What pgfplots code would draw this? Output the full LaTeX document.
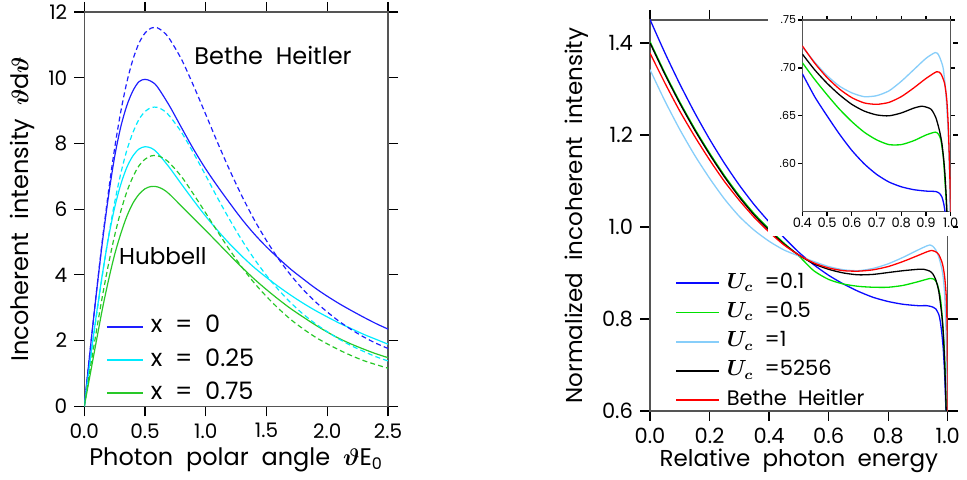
\documentclass[border=0pt]{standalone}
\usepackage{amsmath}
\usepackage{fontspec}
\setmainfont{Poppins}[WordSpace=2]
\usepackage{pgfplots}
\pgfplotsset{compat=1.18}
\definecolor{lblue}{RGB}{30,30,255}
\definecolor{lcyan}{RGB}{0,235,255}
\definecolor{lgreen}{RGB}{40,200,40}
\definecolor{rblue}{RGB}{10,10,255}
\definecolor{rgreen}{RGB}{0,225,0}
\definecolor{rlb}{RGB}{135,206,250}
\definecolor{rred}{RGB}{255,0,0}
\definecolor{spine}{RGB}{85,85,85}
\begin{document}
\begin{tikzpicture}
\useasboundingbox (0,0) rectangle (483.5pt,240pt);
\pgfplotsset{every axis/.append style={scale only axis, anchor=south west, tick align=outside,
  axis line style={spine, line width=0.7pt}, tick style={black, line width=0.6pt}}}
% ---------------- left panel ----------------
\begin{axis}[at={(42.15pt,36.85pt)}, width=151.85pt, height=197.15pt,
  xmin=0, xmax=2.5, ymin=0, ymax=12,
  xtick={0,0.5,1,1.5,2,2.5}, xticklabels={0.0,0.5,1.0,1.5,2.0,2.5},
  ytick={0,2,4,6,8,10,12}, yticklabels={0,2,4,6,8,10,12},
  major tick length=5pt,
  tick label style={font=\fontsize{10}{12}\selectfont},
  label style={font=\fontsize{12}{14}\selectfont},
  xlabel style={yshift=2pt},
  xlabel={Photon polar angle $\boldsymbol{\vartheta}$E\textsubscript{0}},
  ylabel={Incoherent intensity $\boldsymbol{\vartheta}$d$\boldsymbol{\vartheta}$},
  legend image code/.code={\draw[#1, line width=0.9pt] (0pt,0pt) -- (18pt,0pt);},
  legend style={at={(0.07,0.2354)}, anchor=north west, draw=none, fill=none, inner sep=0pt,
    font=\fontsize{12}{14}\selectfont, row sep=3.6pt, column sep=2.5pt,
    nodes={inner sep=1pt, text height=8.5pt, text depth=2.5pt}},
  legend cell align=left]
\addplot[lblue, line width=0.6pt, smooth] coordinates {(0,0)(0.05,1.77)(0.1,3.46)(0.15,5.03)(0.2,6.42)(0.25,7.6)(0.3,8.5)(0.35,9.15)(0.4,9.6)(0.45,9.88)(0.5,9.95)(0.55,9.89)(0.6,9.73)(0.7,9.15)(0.8,8.48)(0.9,7.82)(1.0,7.22)(1.1,6.68)(1.2,6.17)(1.3,5.68)(1.4,5.24)(1.5,4.85)(1.6,4.5)(1.7,4.17)(1.8,3.88)(1.9,3.6)(2.0,3.35)(2.1,3.12)(2.2,2.91)(2.3,2.71)(2.4,2.52)(2.5,2.35)};
\addlegendentry{x = 0}
\addplot[lcyan, line width=0.6pt, smooth] coordinates {(0,0)(0.05,1.45)(0.1,2.8)(0.15,4.05)(0.2,5.15)(0.25,6.05)(0.3,6.75)(0.35,7.27)(0.4,7.62)(0.45,7.83)(0.5,7.9)(0.55,7.86)(0.6,7.72)(0.7,7.27)(0.8,6.76)(0.9,6.26)(1.0,5.78)(1.1,5.34)(1.2,4.93)(1.3,4.56)(1.4,4.22)(1.5,3.92)(1.6,3.64)(1.7,3.38)(1.8,3.14)(1.9,2.92)(2.0,2.72)(2.1,2.53)(2.2,2.36)(2.3,2.19)(2.4,2.04)(2.5,1.89)};
\addlegendentry{x = 0.25}
\addplot[lgreen, line width=0.6pt, smooth] coordinates {(0,0)(0.05,1.0)(0.1,2.0)(0.15,2.98)(0.2,3.85)(0.25,4.62)(0.3,5.25)(0.35,5.78)(0.4,6.18)(0.45,6.45)(0.5,6.62)(0.55,6.69)(0.6,6.68)(0.65,6.6)(0.7,6.46)(0.8,6.09)(0.9,5.72)(1.0,5.35)(1.1,4.97)(1.2,4.59)(1.3,4.22)(1.4,3.87)(1.5,3.55)(1.6,3.25)(1.7,2.97)(1.8,2.72)(1.9,2.48)(2.0,2.26)(2.1,2.06)(2.2,1.89)(2.3,1.74)(2.4,1.6)(2.5,1.48)};
\addlegendentry{x = 0.75}
\addplot[lblue, line width=0.6pt, smooth, dash pattern=on 2.5pt off 1.6pt, forget plot] coordinates {(0,0)(0.05,1.77)(0.1,3.48)(0.15,5.09)(0.2,6.56)(0.25,7.86)(0.3,8.96)(0.35,9.86)(0.4,10.55)(0.45,11.05)(0.5,11.36)(0.55,11.51)(0.6,11.52)(0.65,11.40)(0.7,11.19)(0.8,10.56)(0.9,9.75)(1.0,8.88)(1.1,8.00)(1.2,7.16)(1.3,6.38)(1.4,5.67)(1.5,5.04)(1.6,4.48)(1.7,3.99)(1.8,3.56)(1.9,3.19)(2.0,2.87)(2.1,2.58)(2.2,2.33)(2.3,2.11)(2.4,1.92)(2.5,1.76)};
\addplot[lcyan, line width=0.6pt, smooth, dash pattern=on 2.5pt off 1.6pt, forget plot] coordinates {(0,0)(0.05,1.40)(0.1,2.75)(0.15,4.02)(0.2,5.18)(0.25,6.21)(0.3,7.08)(0.35,7.79)(0.4,8.33)(0.45,8.73)(0.5,8.97)(0.55,9.09)(0.6,9.10)(0.65,9.01)(0.7,8.84)(0.8,8.34)(0.9,7.70)(1.0,7.02)(1.1,6.32)(1.2,5.66)(1.3,5.04)(1.4,4.48)(1.5,3.98)(1.6,3.54)(1.7,3.15)(1.8,2.81)(1.9,2.52)(2.0,2.27)(2.1,2.04)(2.2,1.84)(2.3,1.67)(2.4,1.51)(2.5,1.38)};
\addplot[lgreen, line width=0.6pt, smooth, dash pattern=on 2.5pt off 1.6pt, forget plot] coordinates {(0,0)(0.05,1.17)(0.1,2.30)(0.15,3.37)(0.2,4.34)(0.25,5.20)(0.3,5.93)(0.35,6.53)(0.4,6.98)(0.45,7.32)(0.5,7.52)(0.55,7.62)(0.6,7.63)(0.65,7.55)(0.7,7.41)(0.8,6.99)(0.9,6.45)(1.0,5.88)(1.1,5.30)(1.2,4.74)(1.3,4.22)(1.4,3.75)(1.5,3.34)(1.6,2.97)(1.7,2.64)(1.8,2.36)(1.9,2.11)(2.0,1.90)(2.1,1.71)(2.2,1.54)(2.3,1.39)(2.4,1.27)(2.5,1.16)};
\node[font=\fontsize{12}{14}\selectfont] at (axis cs:1.554,10.69) {Bethe Heitler};
\node[font=\fontsize{11.5}{14}\selectfont] at (axis cs:0.647,4.57) {Hubbell};
\end{axis}
% ---------------- right panel ----------------
\begin{axis}[at={(325pt,34.5pt)}, width=148.85pt, height=195.5pt,
  xmin=0, xmax=1, ymin=0.6, ymax=1.45,
  xtick={0,0.2,0.4,0.6,0.8,1}, xticklabels={0.0,0.2,0.4,0.6,0.8,1.0},
  ytick={0.6,0.8,1.0,1.2,1.4}, yticklabels={0.6,0.8,1.0,1.2,1.4},
  major tick length=5pt,
  tick label style={font=\fontsize{10.5}{12}\selectfont},
  label style={font=\fontsize{11.5}{14}\selectfont},
  xlabel style={yshift=4.5pt},
  xlabel={Relative photon energy},
  ylabel={Normalized incoherent intensity},
  legend image code/.code={\draw[#1, line width=0.9pt] (0pt,0pt) -- (21.3pt,0pt);},
  legend style={at={(0.084,0.3607)}, anchor=north west, draw=none, fill=none, inner sep=0pt,
    font=\fontsize{10.5}{12}\selectfont, row sep=1.6pt, column sep=2.5pt,
    nodes={inner sep=1pt, text height=8pt, text depth=3pt}},
  legend cell align=left]
\addplot[rblue, line width=0.65pt, smooth, tension=0.4] coordinates {(0,1.451)(0.05,1.3785)(0.1,1.311)(0.15,1.2485)(0.2,1.191)(0.25,1.1385)(0.3,1.091)(0.35,1.0485)(0.4,1.011)(0.45,0.977)(0.5,0.945)(0.55,0.918)(0.6,0.895)(0.65,0.876)(0.7,0.860)(0.75,0.847)(0.8,0.838)(0.85,0.832)(0.9,0.829)(0.93,0.829)(0.95,0.826)(0.96,0.822)(0.97,0.81)(0.975,0.795)(0.98,0.77)(0.985,0.735)(0.99,0.675)(0.994,0.60)(0.996,0.55)};
\addlegendentry{$\boldsymbol{U_c}$ =0.1}
\addplot[rgreen, line width=0.65pt, smooth, tension=0.4] coordinates {(0,1.403)(0.05,1.335)(0.1,1.272)(0.15,1.214)(0.2,1.161)(0.25,1.112)(0.3,1.068)(0.35,1.029)(0.4,0.996)(0.45,0.965)(0.5,0.937)(0.55,0.905)(0.6,0.886)(0.65,0.876)(0.7,0.871)(0.75,0.869)(0.8,0.869)(0.85,0.873)(0.9,0.881)(0.94,0.888)(0.955,0.886)(0.965,0.876)(0.975,0.848)(0.982,0.80)(0.988,0.74)(0.993,0.66)(0.997,0.56)};
\addlegendentry{$\boldsymbol{U_c}$ =0.5}
\addplot[rlb, line width=0.65pt, smooth, tension=0.4] coordinates {(0,1.342)(0.05,1.274)(0.1,1.212)(0.15,1.156)(0.2,1.106)(0.25,1.061)(0.3,1.023)(0.35,0.993)(0.4,0.969)(0.45,0.950)(0.5,0.937)(0.55,0.925)(0.6,0.914)(0.65,0.907)(0.7,0.905)(0.75,0.910)(0.8,0.920)(0.85,0.934)(0.9,0.950)(0.93,0.959)(0.94,0.961)(0.95,0.958)(0.96,0.95)(0.97,0.935)(0.98,0.91)(0.985,0.89)(0.99,0.85)(0.995,0.76)(0.998,0.65)(1.0,0.55)};
\addlegendentry{$\boldsymbol{U_c}$ =1}
\addplot[black, line width=0.65pt, smooth, tension=0.4] coordinates {(0,1.400)(0.05,1.332)(0.1,1.269)(0.15,1.211)(0.2,1.158)(0.25,1.109)(0.3,1.065)(0.35,1.026)(0.4,0.993)(0.45,0.963)(0.5,0.939)(0.55,0.920)(0.6,0.908)(0.65,0.900)(0.7,0.896)(0.75,0.897)(0.8,0.901)(0.85,0.905)(0.9,0.908)(0.92,0.908)(0.94,0.904)(0.95,0.898)(0.96,0.885)(0.97,0.86)(0.98,0.81)(0.985,0.77)(0.99,0.70)(0.995,0.60)(0.997,0.55)};
\addlegendentry{$\boldsymbol{U_c}$ =5256}
\addplot[rred, line width=0.65pt, smooth, tension=0.4] coordinates {(0,1.378)(0.05,1.313)(0.1,1.252)(0.15,1.197)(0.2,1.146)(0.25,1.099)(0.3,1.058)(0.35,1.021)(0.4,0.989)(0.45,0.961)(0.5,0.939)(0.55,0.922)(0.6,0.911)(0.65,0.905)(0.7,0.904)(0.75,0.907)(0.8,0.914)(0.85,0.925)(0.9,0.938)(0.93,0.946)(0.946,0.949)(0.96,0.946)(0.97,0.94)(0.98,0.925)(0.985,0.912)(0.99,0.89)(0.995,0.85)(0.998,0.78)(0.9995,0.65)(1.0,0.55)};
\addlegendentry{Bethe Heitler}
\end{axis}
\fill[white] (384pt,122pt) rectangle (476.5pt,240pt);
% ---------------- inset ----------------
\begin{axis}[at={(401.15pt,134.15pt)}, width=74.2pt, height=95.85pt,
  xmin=0.4, xmax=1, ymin=0.55, ymax=0.75,
  xtick={0.4,0.5,0.6,0.7,0.8,0.9,1}, xticklabels={0.4,0.5,0.6,0.7,0.8,0.9,1.0},
  ytick={0.6,0.65,0.7,0.75}, yticklabels={.60,.65,.70,.75},
  major tick length=2pt,
  xticklabel style={font=\fontsize{6.5}{7}\selectfont, inner sep=1pt},
  yticklabel style={font=\fontsize{5.5}{7}\selectfont, inner sep=1pt}]
\addplot[rblue, line width=0.65pt, smooth, tension=0.4] coordinates {(0.40,0.694)(0.45,0.670)(0.50,0.650)(0.55,0.631)(0.60,0.614)(0.65,0.600)(0.70,0.589)(0.75,0.581)(0.80,0.576)(0.85,0.573)(0.90,0.5715)(0.94,0.571)(0.955,0.569)(0.965,0.565)(0.972,0.558)(0.978,0.548)(0.985,0.53)};
\addplot[rgreen, line width=0.65pt, smooth, tension=0.4] coordinates {(0.40,0.7055)(0.45,0.688)(0.50,0.672)(0.55,0.657)(0.60,0.644)(0.65,0.633)(0.70,0.625)(0.75,0.620)(0.80,0.620)(0.85,0.624)(0.90,0.630)(0.937,0.633)(0.95,0.631)(0.96,0.625)(0.97,0.607)(0.976,0.585)(0.982,0.56)(0.986,0.54)};
\addplot[rlb, line width=0.65pt, smooth, tension=0.4] coordinates {(0.40,0.722)(0.45,0.706)(0.50,0.692)(0.55,0.681)(0.60,0.674)(0.65,0.670)(0.70,0.671)(0.75,0.676)(0.80,0.686)(0.85,0.698)(0.90,0.710)(0.937,0.716)(0.95,0.714)(0.96,0.708)(0.97,0.699)(0.98,0.675)(0.99,0.632)(0.995,0.59)(0.997,0.552)(0.999,0.53)};
\addplot[black, line width=0.65pt, smooth, tension=0.4] coordinates {(0.40,0.7145)(0.45,0.698)(0.50,0.684)(0.55,0.672)(0.60,0.662)(0.65,0.655)(0.70,0.651)(0.75,0.650)(0.80,0.653)(0.85,0.658)(0.885,0.660)(0.92,0.657)(0.94,0.648)(0.955,0.634)(0.965,0.62)(0.975,0.595)(0.982,0.565)(0.986,0.54)};
\addplot[rred, line width=0.65pt, smooth, tension=0.4] coordinates {(0.40,0.723)(0.45,0.705)(0.50,0.690)(0.55,0.678)(0.60,0.669)(0.65,0.6635)(0.70,0.662)(0.75,0.664)(0.80,0.670)(0.85,0.679)(0.90,0.689)(0.943,0.696)(0.96,0.694)(0.975,0.684)(0.984,0.667)(0.99,0.64)(0.995,0.60)(0.998,0.57)(1.0,0.54)};
\end{axis}
\end{tikzpicture}
\end{document}
